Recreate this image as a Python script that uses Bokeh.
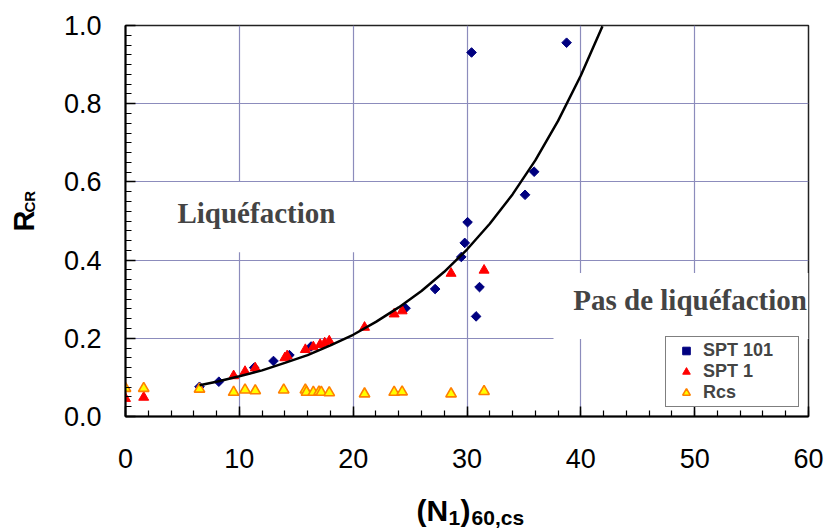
import math
from bokeh.plotting import figure
from bokeh.models import (Range1d, FixedTicker, PrintfTickFormatter, Label, BoxAnnotation,
                          Legend, LegendItem)
from bokeh.layouts import row, column
from bokeh.embed import file_html
from bokeh.resources import INLINE

# ---- data ----
spt101_x = [6.5, 8.2, 11.3, 13.0, 14.4, 16.3, 24.6, 27.2, 29.5, 29.8, 30.05, 30.4, 30.8, 31.1, 35.1, 35.9, 38.75]
spt101_y = [0.076, 0.089, 0.125, 0.142, 0.157, 0.179, 0.277, 0.326, 0.408, 0.444, 0.497, 0.931, 0.256, 0.331, 0.567, 0.626, 0.956]

spt1_x = [0.0, 1.6, 9.5, 10.5, 11.4, 14.0, 14.2, 15.8, 16.5, 17.1, 17.5, 17.9, 21.0, 23.6, 24.3, 28.6, 31.5]
spt1_y = [0.046, 0.049, 0.104, 0.115, 0.124, 0.150, 0.155, 0.171, 0.178, 0.184, 0.188, 0.193, 0.228, 0.262, 0.270, 0.366, 0.374]

rcs_x = [0.0, 1.6, 6.5, 9.5, 10.5, 11.4, 13.9, 15.8, 15.9, 16.5, 17.0, 17.2, 17.9, 21.0, 23.6, 24.3, 28.6, 31.5]
rcs_y = [0.072, 0.072, 0.070, 0.062, 0.068, 0.066, 0.068, 0.068, 0.062, 0.062, 0.063, 0.062, 0.061, 0.058, 0.062, 0.063, 0.058, 0.064]

curve_x = [6.5, 8, 10, 12, 14, 16, 18, 20, 22, 24, 26, 28, 30, 32, 34, 36, 38, 40, 41.9]
curve_y = [0.080, 0.089, 0.103, 0.118, 0.137, 0.157, 0.182, 0.209, 0.242, 0.279, 0.321, 0.370, 0.427,
           0.493, 0.568, 0.655, 0.756, 0.872, 0.998]

x_ticks = [0, 10, 20, 30, 40, 50, 60]
y_ticks = [0.0, 0.2, 0.4, 0.6, 0.8, 1.0]

GRID = "#8c8cbc"
SANS = "Liberation Sans"
SERIF = "Liberation Serif"

W, H = 828, 531
YSTRIP_W = 50
MAIN_H = 484

# ---------------- main plot ----------------
p = figure(width=W - YSTRIP_W, height=MAIN_H, output_backend="svg", toolbar_location=None,
           x_range=Range1d(0, 60), y_range=Range1d(0, 1),
           min_border_left=125 - YSTRIP_W, min_border_right=20,
           min_border_top=25, min_border_bottom=MAIN_H - 416)
p.background_fill_color = "white"
p.border_fill_color = "white"
p.outline_line_color = "#222222"
p.outline_line_width = 1.5

p.xaxis.ticker = FixedTicker(ticks=x_ticks, minor_ticks=list(range(0, 61, 2)))
p.yaxis.ticker = FixedTicker(ticks=y_ticks, minor_ticks=[i * 0.025 for i in range(41)])
p.yaxis.formatter = PrintfTickFormatter(format="%.1f")

for ax in (p.xaxis[0], p.yaxis[0]):
    ax.axis_line_color = "black"
    ax.axis_line_width = 2
    ax.major_tick_in = 10
    ax.major_tick_out = 0
    ax.minor_tick_in = 6
    ax.minor_tick_out = 0
    ax.major_tick_line_color = "black"
    ax.minor_tick_line_color = "black"
    ax.major_tick_line_width = 1.5
    ax.minor_tick_line_width = 1.2
    ax.major_label_text_font = SANS
    ax.major_label_text_font_size = "27px"
    ax.major_label_text_color = "black"
p.xaxis.major_label_standoff = 32
p.yaxis.major_label_standoff = 24

p.grid.grid_line_color = GRID
p.grid.grid_line_width = 1.2

# white text boxes hiding the grid
p.add_layout(BoxAnnotation(left=0, right=25, bottom=0.42, top=0.6, fill_color="white",
                           fill_alpha=1, line_alpha=0, level="underlay"))
p.add_layout(BoxAnnotation(left=37.6, right=60, bottom=0.198, top=0.367, fill_color="white",
                           fill_alpha=1, line_alpha=0, level="underlay"))

r1 = p.scatter(spt101_x, spt101_y, marker="square", angle=math.pi / 4, size=6.8,
               fill_color="#000080", line_color="#000080")
r2 = p.scatter(spt1_x, spt1_y, marker="triangle", size=10,
               fill_color="#ff0000", line_color="#ff0000")
r3 = p.scatter(rcs_x, rcs_y, marker="triangle", size=10.5, fill_color="#ffff00",
               line_color="#ff8000", line_width=1.6)
p.line(curve_x, curve_y, line_color="black", line_width=2.5)

p.add_layout(Label(x=11.5, y=0.52, text="Liquéfaction", text_font=SERIF, text_font_style="bold",
                   text_font_size="29px", text_align="center", text_baseline="middle"))
p.add_layout(Label(x=49.6, y=0.297, text="Pas de liquéfaction", text_font=SERIF,
                   text_font_style="bold", text_font_size="29px", text_align="center",
                   text_baseline="middle"))

legend = Legend(items=[LegendItem(label="SPT 101", renderers=[r1]),
                       LegendItem(label="SPT 1", renderers=[r2]),
                       LegendItem(label="Rcs", renderers=[r3])],
                location=(540, 9), orientation="vertical",
                label_text_font=SANS, label_text_font_style="bold", label_text_font_size="18px",
                label_height=19, glyph_height=19, glyph_width=34, label_standoff=0,
                label_width=92, spacing=0, padding=3, margin=0,
                border_line_color="black", border_line_width=1.2,
                background_fill_color="white", background_fill_alpha=1)
p.add_layout(legend)

# ---------------- strips holding the axis titles ----------------
def strip(w, h, xr):
    s = figure(width=w, height=h, output_backend="svg", toolbar_location=None,
               x_range=xr, y_range=Range1d(0, h),
               x_axis_type=None, y_axis_type=None,
               min_border=0, min_border_left=0, min_border_right=0,
               min_border_top=0, min_border_bottom=0)
    s.outline_line_color = None
    s.background_fill_color = "white"
    s.border_fill_color = "white"
    s.grid.visible = False
    return s

def lab(fig, x, y, t, size, angle=0.0):
    fig.add_layout(Label(x=x, y=y, text=t, text_font=SANS, text_font_style="bold",
                         text_font_size=size, angle=angle, text_align="left",
                         text_baseline="alphabetic", text_color="black"))

XS_H = H - MAIN_H
# the x strip shares the main x range, so its frame lines up with the plot above
xs = strip(W - YSTRIP_W, XS_H, p.x_range)
lab(xs, 25.56, H - 510, "(N", "30px")
lab(xs, 28.38, H - 517, "1", "21px")
lab(xs, 29.43, H - 510, ")", "30px")
lab(xs, 30.40, H - 517, "60,cs", "21px")

ys = strip(YSTRIP_W, H, Range1d(0, YSTRIP_W))
lab(ys, 23, H - 231, "R", "29px", angle=math.pi / 2)
lab(ys, 29, H - 212, "CR", "15px", angle=math.pi / 2)

layout = row(ys, column(p, xs, spacing=0), spacing=0)

open("out.html", "w").write(file_html(layout, INLINE))
